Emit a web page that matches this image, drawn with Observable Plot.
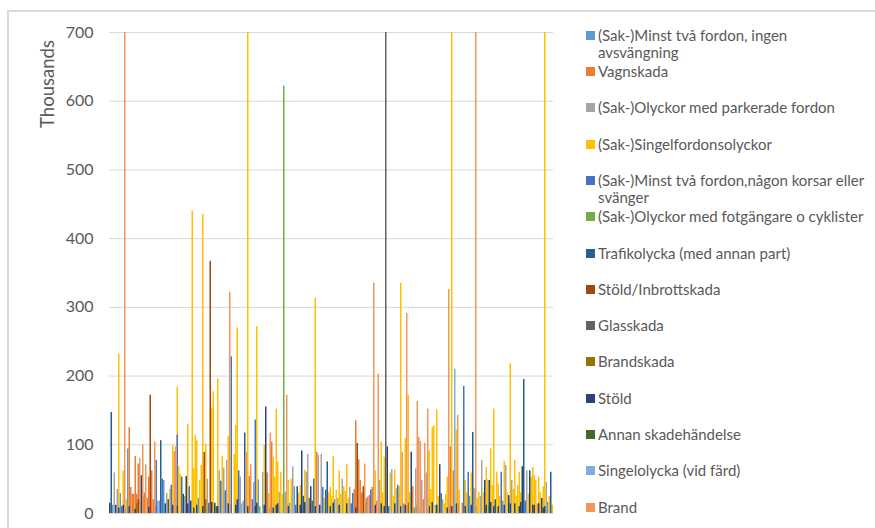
<!DOCTYPE html>
<html>
<head>
<meta charset="utf-8">
<script src="https://cdn.jsdelivr.net/npm/d3@7"></script>
<script src="https://cdn.jsdelivr.net/npm/@observablehq/plot@0.6"></script>
<style>
  body { margin: 0; background: #fff; }
  #chart { position: relative; width: 875px; height: 528px; overflow: hidden; font-family: Lato, sans-serif; color: #595959; }
  #chart svg { position: absolute; left: 0; top: 0; }
  #frame { position: absolute; left: 7px; top: 10px; width: 2000px; height: 2000px; border-left: 2px solid #d9d9d9; border-top: 2px solid #d9d9d9; pointer-events: none; }
  #ytitle { position: absolute; left: 47px; top: 84px; transform: translate(-50%, -50%) rotate(-90deg); font-size: 18.5px; white-space: nowrap; }
  .key { position: absolute; left: 586px; width: 270px; font-size: 15px; line-height: 17.5px; padding-left: 12px; }
  .key i { position: absolute; left: 0; top: 4px; width: 9px; height: 9px; }
</style>
</head>
<body>
<div id="chart"></div>
<script>
// Claim types (series), in workbook order
const seriesNames = [
  "(Sak-)Minst två fordon, ingen avsvängning",
  "Vagnskada",
  "(Sak-)Olyckor med parkerade fordon",
  "(Sak-)Singelfordonsolyckor",
  "(Sak-)Minst två fordon,någon korsar eller svänger",
  "(Sak-)Olyckor med fotgängare o cyklister",
  "Trafikolycka (med annan part)",
  "Stöld/Inbrottskada",
  "Glasskada",
  "Brandskada",
  "Stöld",
  "Annan skadehändelse",
  "Singelolycka (vid färd)",
  "Brand"
];
const seriesColors = [
  "#5b9bd5", "#ed7d31", "#a5a5a5", "#ffc000", "#4472c4", "#70ad47", "#255e91",
  "#9e480e", "#636363", "#997300", "#264478", "#43682b", "#7cafdd", "#f1975a"
];

// Category axis: 296 reporting periods, unlabeled
const periods = d3.range(296);

// Y axis ticks (thousands)
const yTicks = [0, 100, 200, 300, 400, 500, 600, 700];

// Claim amounts per series as [period, thousands]; values above 700 run past the axis ceiling
const minstTvaIngenAvsvang = [[2,12],[7,29],[12,94],[33,18],[36,48],[59,22],[99,49],[120,15],[123,39],[150,20],[196,14],[240,25],[262,18],[292,16]];
const vagnskada = [[13,125],[14,38],[15,28],[16,28],[17,83],[18,28],[19,72],[23,30],[25,22],[26,53],[28,62],[29,20],[93,54],[105,59],[108,104],[138,89],[163,35],[164,135],[166,78],[167,48],[168,30],[171,22],[173,26],[175,38],[178,18],[202,39],[209,20],[227,97],[229,62],[235,15],[257,12],[285,14]];
const parkerade = [[3,59],[5,35],[38,29],[50,25],[65,50],[73,62],[76,66],[78,77],[87,53],[89,18],[96,45],[102,60],[113,31],[117,31],[122,68],[131,60],[132,86],[139,85],[141,86],[152,22],[155,50],[160,38],[172,24],[180,48],[188,64],[191,36],[204,65],[208,48],[211,59],[217,12],[222,20],[243,36],[247,25],[248,77],[264,70],[268,48],[278,62],[291,45]];
const singelfordon = [[6,232],[9,62],[11,20],[40,35],[42,99],[44,30],[45,184],[46,68],[47,57],[52,130],[55,440],[56,66],[57,114],[58,106],[60,48],[61,70],[62,435],[64,101],[68,153],[69,177],[72,196],[75,83],[79,112],[83,86],[84,128],[85,270],[92,760],[98,272],[103,99],[106,29],[109,82],[110,53],[111,152],[112,75],[114,60],[115,28],[119,48],[121,50],[126,30],[127,41],[130,63],[137,313],[143,22],[146,30],[147,38],[148,25],[149,83],[151,34],[153,62],[154,28],[156,39],[157,32],[158,71],[159,22],[177,62],[181,104],[182,30],[183,82],[187,59],[189,25],[190,63],[193,39],[194,335],[197,109],[199,172],[200,30],[213,91],[214,35],[215,125],[216,128],[218,151],[219,25],[223,14],[224,28],[225,53],[228,760],[231,121],[233,34],[237,48],[238,30],[241,59],[245,22],[246,31],[249,30],[251,67],[252,49],[254,94],[255,41],[256,152],[258,60],[259,43],[260,25],[263,76],[265,30],[267,218],[269,35],[270,77],[271,25],[272,41],[273,60],[274,30],[279,28],[281,53],[282,67],[283,55],[284,48],[286,53],[287,30],[289,39],[290,760],[293,25],[295,12]];
const minstTvaKorsar = [[8,10],[31,77],[35,50],[41,41],[45,114],[48,53],[53,39],[66,15],[74,47],[77,33],[81,228],[86,62],[95,20],[97,136],[124,12],[136,50],[142,38],[161,14],[162,29],[174,34],[186,10],[192,41],[221,29],[236,185],[239,60],[253,12],[261,60],[277,18]];
const fotgangare = [[100,10],[116,622],[203,8]];
const trafikolycka = [[1,147],[34,106],[39,20],[90,117],[129,25],[144,34],[145,75],[198,10],[242,118],[257,20],[276,195],[294,60]];
const stoldInbrott = [[19,20],[22,25],[27,172],[63,89],[67,367],[165,102],[169,39],[170,15],[226,12]];
const glasskada = [[43,12],[135,18],[184,760],[244,10]];
const brandskada = [[18,14],[64,20],[118,12],[133,22],[199,15]];
const stold = [[0,15],[4,12],[6,8],[9,12],[10,8],[13,10],[17,6],[21,55],[26,9],[30,10],[37,14],[42,12],[45,10],[49,28],[51,54],[52,14],[54,18],[56,8],[58,12],[62,10],[68,16],[70,15],[72,10],[79,14],[80,12],[84,12],[85,20],[92,10],[97,10],[98,15],[103,12],[104,155],[107,8],[109,8],[111,12],[112,14],[119,10],[125,39],[127,12],[128,91],[130,16],[134,39],[137,10],[140,12],[147,10],[149,15],[153,12],[158,14],[164,8],[176,10],[177,12],[181,14],[183,10],[185,97],[190,14],[194,10],[197,12],[201,89],[205,12],[213,10],[215,16],[218,12],[220,71],[225,8],[228,10],[231,14],[232,14],[237,10],[241,12],[250,48],[251,12],[253,48],[254,16],[256,10],[259,10],[263,12],[266,26],[267,14],[270,14],[273,10],[274,16],[275,68],[280,62],[282,12],[283,12],[286,14],[288,22],[289,8],[290,10]];
const annanSkada = [[20,18],[71,10],[206,8]];
const singelolycka = [[32,18],[88,14],[212,20],[230,210]];
const brand = [[10,760],[20,80],[22,100],[24,71],[30,104],[43,90],[44,97],[80,322],[91,89],[94,71],[107,117],[118,172],[170,72],[176,335],[179,203],[195,89],[198,291],[205,163],[206,111],[207,105],[210,102],[212,152],[226,326],[232,143],[244,760]];

const seriesValues = [
  minstTvaIngenAvsvang, vagnskada, parkerade, singelfordon, minstTvaKorsar, fotgangare,
  trafikolycka, stoldInbrott, glasskada, brandskada, stold, annanSkada, singelolycka, brand
];

// Long table, series drawn in order so later series sit in front (overlapping columns)
const rows = seriesValues.flatMap((pairs, i) =>
  pairs.map(([period, value]) => ({period, value, series: seriesNames[i]}))
);

const chart = Plot.plot({
  width: 565,
  height: 528,
  marginTop: 32,
  marginBottom: 15,
  marginLeft: 109,
  marginRight: 12,
  style: {background: "transparent", fontFamily: "Lato, sans-serif", fontSize: "16px", color: "#595959"},
  x: {type: "band", domain: periods, padding: 0, round: false, axis: null},
  y: {domain: [0, 700], ticks: yTicks, tickSize: 0, tickPadding: 16, label: null},
  color: {domain: seriesNames, range: seriesColors},
  marks: [
    Plot.ruleY(yTicks, {stroke: "#d9d9d9", strokeWidth: 1}),
    // overlapping (not stacked) columns from the baseline
    Plot.barY(rows, {x: "period", y1: 0, y2: "value", fill: "series", clip: true})
  ]
});

const root = document.getElementById("chart");
root.appendChild(chart);

const title = document.createElement("div");
title.id = "ytitle";
title.textContent = "Thousands";
root.appendChild(title);

// Legend on the right, one entry per series
const color = chart.scale("color");
seriesNames.forEach((name, i) => {
  const item = document.createElement("div");
  item.className = "key";
  item.style.top = (35.5 + i * 36.3 - 8.75) + "px";
  const sw = document.createElement("i");
  sw.style.background = color.range[color.domain.indexOf(name)];
  item.appendChild(sw);
  item.appendChild(document.createTextNode(name));
  root.appendChild(item);
});

const frame = document.createElement("div");
frame.id = "frame";
root.appendChild(frame);
</script>
</body>
</html>
